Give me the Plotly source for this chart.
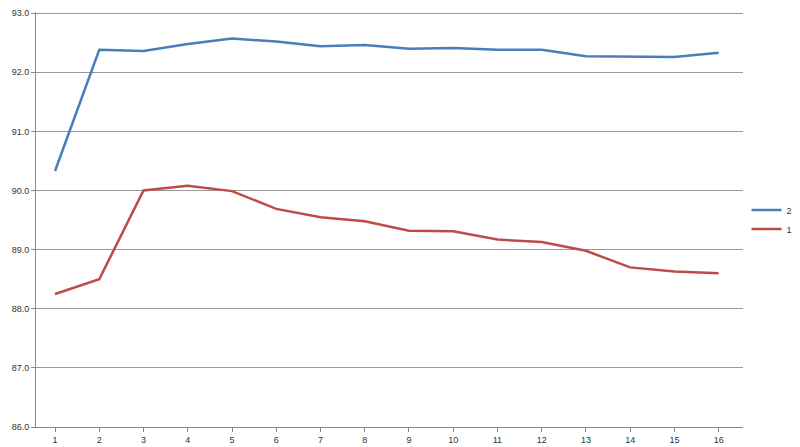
import plotly.graph_objects as go

x = list(range(1, 17))
s24 = [90.33, 92.38, 92.36, 92.48, 92.57, 92.52, 92.44, 92.46, 92.40, 92.41, 92.38, 92.38, 92.27, 92.27, 92.26, 92.33]
s12 = [88.25, 88.50, 90.00, 90.08, 89.99, 89.69, 89.55, 89.48, 89.32, 89.31, 89.17, 89.13, 88.98, 88.70, 88.63, 88.60]

fig = go.Figure()
fig.add_trace(go.Scatter(x=x, y=s24, mode="lines", name="24V3A", line=dict(color="#4a7ebb", width=2.5)))
fig.add_trace(go.Scatter(x=x, y=s12, mode="lines", name="12V6A", line=dict(color="#be4b48", width=2.5)))
fig.update_layout(
    width=800, height=447, paper_bgcolor="white", plot_bgcolor="white",
    margin=dict(l=28, r=65, t=4, b=28, autoexpand=False),
    font=dict(family="Liberation Sans", size=9, color="#333"),
    legend=dict(x=1.005, y=0.5, yanchor="middle", xanchor="left", font=dict(size=9),
                itemwidth=30, tracegroupgap=2),
    xaxis=dict(range=[0.57, 16.55], tickvals=x, showgrid=False, showline=True, linecolor="#888",
               ticks="outside", ticklen=4, tickcolor="#888", zeroline=False),
    yaxis=dict(range=[86, 93.02], tickvals=[86, 87, 88, 89, 90, 91, 92, 93], tickformat=".1f",
               showgrid=True, gridcolor="#999",
               showline=True, linecolor="#888", ticks="outside", ticklen=4, tickcolor="#888", zeroline=False),
)
fig.write_html("out.html")
